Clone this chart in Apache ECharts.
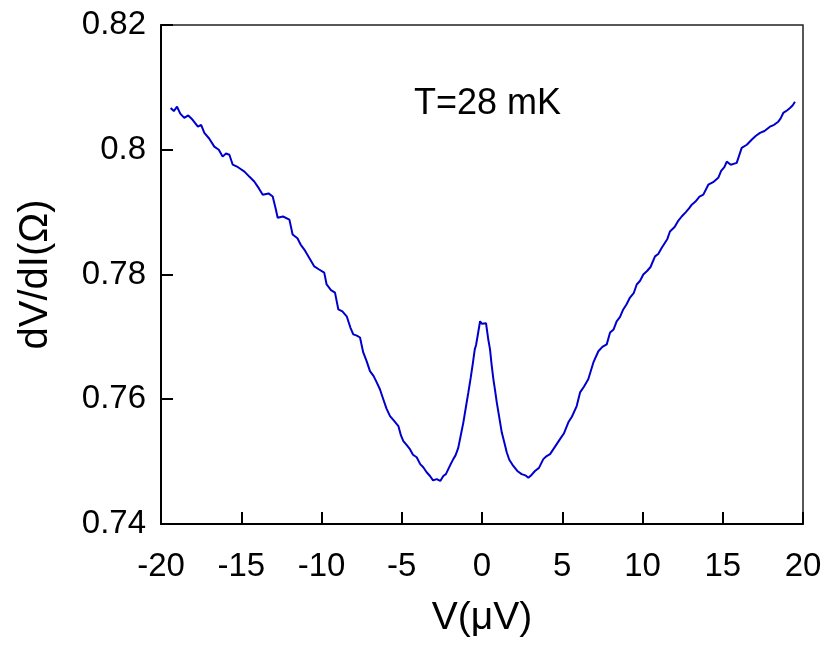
<!DOCTYPE html>
<html>
<head>
<meta charset="utf-8">
<script src="https://cdn.jsdelivr.net/npm/echarts@6/dist/echarts.min.js"></script>
<style>html,body{margin:0;padding:0;background:#fff;}#c{width:839px;height:646px;}</style>
</head>
<body>
<div id="c"></div>
<script>
var xValues = [-19.4,-19.2,-19.0,-18.8,-18.55,-18.3,-18.03,-17.7,-17.5,-17.3,-17.0,-16.68,-16.4,-16.16,-15.95,-15.74,-15.53,-15.2,-14.8,-14.5,-14.19,-13.9,-13.66,-13.3,-13.04,-12.85,-12.73,-12.4,-12.0,-11.8,-11.5,-11.3,-11.07,-10.75,-10.45,-10.15,-9.83,-9.68,-9.41,-9.16,-8.95,-8.7,-8.43,-8.2,-8.02,-7.8,-7.6,-7.4,-7.2,-6.98,-6.75,-6.56,-6.36,-6.15,-5.95,-5.73,-5.5,-5.21,-5.05,-4.9,-4.7,-4.49,-4.3,-4.07,-3.85,-3.66,-3.45,-3.24,-3.05,-2.82,-2.6,-2.41,-2.25,-2.1,-1.95,-1.79,-1.65,-1.48,-1.3,-1.16,-1.0,-0.85,-0.7,-0.58,-0.45,-0.37,-0.25,-0.12,0.0,0.1,0.25,0.39,0.5,0.6,0.71,0.81,0.92,1.05,1.23,1.4,1.54,1.7,1.85,1.95,2.2,2.47,2.7,2.89,3.1,3.3,3.55,3.82,4.03,4.24,4.5,4.86,5.1,5.38,5.6,5.9,6.11,6.35,6.62,6.94,7.25,7.5,7.77,7.98,8.2,8.39,8.6,8.8,9.0,9.22,9.45,9.64,9.85,10.05,10.3,10.5,10.78,10.98,11.2,11.4,11.55,11.71,12.0,12.2,12.44,12.7,12.9,13.07,13.3,13.55,13.79,14.1,14.4,14.72,14.9,15.1,15.25,15.5,15.87,16.18,16.5,16.8,17.05,17.32,17.6,17.94,18.2,18.46,18.6,18.77,19.0,19.19,19.35,19.5];
var dvdiValues = [0.8067,0.8062,0.8069,0.8058,0.8051,0.8055,0.8048,0.8037,0.8040,0.8027,0.8018,0.8005,0.8000,0.7989,0.7994,0.7992,0.7976,0.7972,0.7965,0.7957,0.7949,0.7938,0.7928,0.7930,0.7925,0.7905,0.7891,0.7893,0.7888,0.7864,0.7858,0.7848,0.7840,0.7826,0.7813,0.7808,0.7803,0.7784,0.7775,0.7771,0.7744,0.7741,0.7733,0.7715,0.7704,0.7702,0.7699,0.7675,0.7662,0.7645,0.7637,0.7627,0.7616,0.7600,0.7585,0.7573,0.7566,0.7557,0.7542,0.7533,0.7527,0.7520,0.7511,0.7507,0.7496,0.7491,0.7483,0.7477,0.7470,0.7472,0.7469,0.7477,0.7480,0.7488,0.7496,0.7504,0.7510,0.7522,0.7545,0.7563,0.7588,0.7611,0.7635,0.7656,0.7680,0.7687,0.7705,0.7725,0.7721,0.7724,0.7722,0.7696,0.7680,0.7655,0.7632,0.7615,0.7595,0.7575,0.7547,0.7530,0.7515,0.7503,0.7497,0.7493,0.7485,0.7480,0.7478,0.7474,0.7479,0.7485,0.7490,0.7504,0.7509,0.7512,0.7522,0.7536,0.7545,0.7563,0.7572,0.7589,0.7611,0.7620,0.7632,0.7659,0.7677,0.7684,0.7688,0.7707,0.7712,0.7725,0.7732,0.7744,0.7752,0.7763,0.7770,0.7784,0.7790,0.7800,0.7806,0.7812,0.7829,0.7833,0.7843,0.7851,0.7857,0.7869,0.7876,0.7885,0.7893,0.7900,0.7906,0.7912,0.7917,0.7925,0.7928,0.7944,0.7948,0.7955,0.7966,0.7972,0.7981,0.7976,0.7979,0.8003,0.8008,0.8016,0.8022,0.8027,0.8030,0.8037,0.8040,0.8045,0.8050,0.8059,0.8063,0.8067,0.8071,0.8077];
var xTicks = [-20,-15,-10,-5,0,5,10,15,20];
var yTicks = [0.74,0.76,0.78,0.8,0.82];
var annotation = 'T=28 mK';

var chart = echarts.init(document.getElementById('c'), null, {renderer:'canvas'});
var pts = xValues.map(function(x,i){return [x, dvdiValues[i]];});
var font = 'Liberation Sans, Arial, sans-serif';
chart.setOption({
  animation:false,
  backgroundColor:'#fff',
  grid:{left:161, top:25, right:36, bottom:122, show:true, borderColor:'#222', borderWidth:1.5, containLabel:false},
  xAxis:{type:'value', min:xTicks[0], max:xTicks[xTicks.length-1], interval:5,
    name:'V(μV)', nameLocation:'middle', nameGap:75,
    nameTextStyle:{fontFamily:font, fontSize:39, color:'#000'},
    axisLine:{show:true, onZero:false, lineStyle:{color:'#000', width:2}},
    axisTick:{show:true, inside:true, length:12, lineStyle:{color:'#000', width:2}},
    axisLabel:{fontFamily:font, fontSize:33, color:'#000', margin:26},
    splitLine:{show:false}},
  yAxis:{type:'value', min:yTicks[0], max:yTicks[yTicks.length-1], interval:0.02,
    name:'dV/dI(Ω)', nameLocation:'middle', nameGap:105,
    nameTextStyle:{fontFamily:font, fontSize:40, color:'#000'},
    axisLine:{show:true, onZero:false, lineStyle:{color:'#000', width:2}},
    axisTick:{show:true, inside:true, length:12, lineStyle:{color:'#000', width:2}},
    axisLabel:{fontFamily:font, fontSize:33, color:'#000', margin:15,
      formatter:function(v){return String(Math.round(v*100)/100);}},
    splitLine:{show:false}},
  graphic:[{type:'text', left:414, top:86, style:{text:annotation, font:'36px Liberation Sans, Arial, sans-serif', fill:'#000'}}],
  series:[{type:'line', data:pts, showSymbol:false, symbol:'none',
    lineStyle:{color:'#0000CC', width:2}}]
});
</script>
</body>
</html>
